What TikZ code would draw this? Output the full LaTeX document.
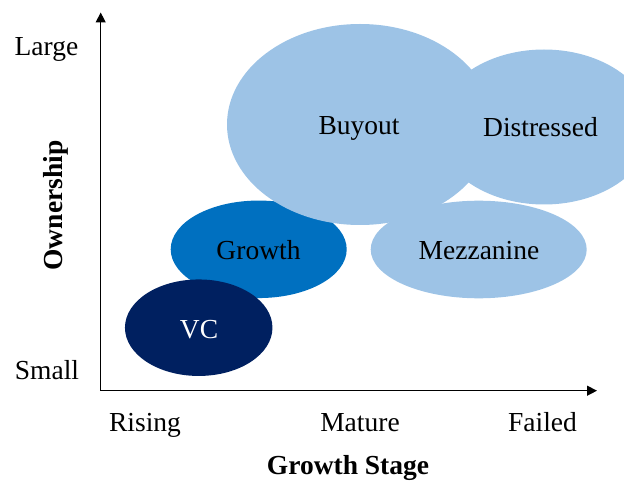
\documentclass[tikz,border=0pt]{standalone}
\usepackage{fontspec}
\setmainfont{Liberation Serif}
\usetikzlibrary{arrows.meta,shapes.geometric}
\definecolor{lightblue}{HTML}{9DC3E6}
\definecolor{midblue}{HTML}{0070C0}
\definecolor{darkblue}{HTML}{002060}
\tikzset{
  blob/.style={ellipse, inner sep=0pt, draw=none},
  lbl/.style={anchor=base, inner sep=0pt, font=\fontsize{27.5}{31}\selectfont},
  boldlbl/.style={lbl, font=\fontsize{27.5}{31}\selectfont\bfseries},
  axis/.style={line width=1.3pt, black, -{Triangle[width=10pt,length=10pt]}}
}
\begin{document}
\begin{tikzpicture}[x=1pt,y=-1pt]
\useasboundingbox (0,0) rectangle (624,481);
% bubbles
\node[blob, fill=midblue, minimum width=176pt, minimum height=97.5pt] (growthE) at (258.7,249.3) {};
\node[blob, fill=darkblue, minimum width=147.5pt, minimum height=96.5pt] (vcE) at (198.7,327.7) {};
\node[blob, fill=lightblue, minimum width=216pt, minimum height=97.6pt] (mezzE) at (478.7,249.5) {};
\node[blob, fill=lightblue, minimum width=216pt, minimum height=155pt] (distE) at (544,127) {};
\node[blob, fill=lightblue, minimum width=266pt, minimum height=201pt] (buyE) at (360,124.5) {};
% bubble labels
\node[lbl] (buyT) at (359,135) {Buyout};
\node[lbl] (distT) at (540.5,137) {Distressed};
\node[lbl] (growthT) at (258.5,260) {Growth};
\node[lbl] (mezzT) at (479,260) {Mezzanine};
\node[lbl, text=white] (vcT) at (199,338.3) {VC};
% axes
\coordinate (origin) at (100.7,390.7);
\coordinate (ytip) at (100.7,12.5);
\coordinate (xtip) at (597,390.7);
\draw[axis] (origin) -- (ytip);
\draw[axis] (origin) -- (xtip);
% axis labels
\node[lbl] (large) at (46.5,56) {Large};
\node[lbl] (small) at (47,379) {Small};
\node[boldlbl, rotate=90] (own) at (62,205.5) {Ownership};
\node[lbl] (rising) at (145,431) {Rising};
\node[lbl] (mature) at (360,431) {Mature};
\node[lbl] (failed) at (542.5,431) {Failed};
\node[boldlbl] (gstage) at (348,474) {Growth Stage};
\end{tikzpicture}
\end{document}
